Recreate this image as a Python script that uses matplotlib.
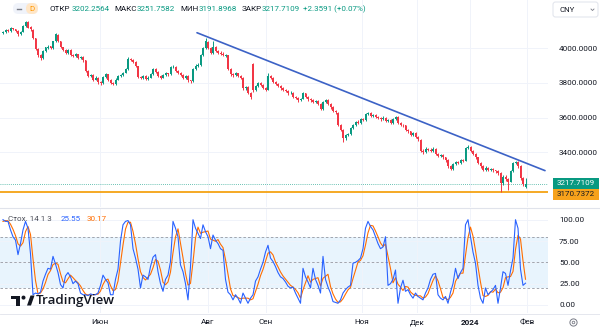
import matplotlib
matplotlib.use("Agg")
import matplotlib.pyplot as plt
import numpy as np
from matplotlib.patches import FancyBboxPatch, Rectangle, Circle, Polygon

plt.rcParams['font.family'] = ['Roboto', 'DejaVu Sans']

# ---------------- data (daily candles, mid-Apr 2023 .. early Feb 2024) ----------------
opens = [
    4090, 4095, 4105, 4098, 4115, 4110, 4100, 4080, 4095, 4128,
    4150, 4122, 4108, 4058, 3995, 3962, 3945, 3983, 4003, 4012,
    4000, 4040, 4078, 4040, 4005, 3992, 3975, 3990, 3962, 3955,
    3965, 3945, 3950, 3930, 3872, 3840, 3845, 3820, 3830, 3805,
    3800, 3835, 3850, 3820, 3800, 3795, 3820, 3840, 3845, 3860,
    3880, 3940, 3935, 3920, 3898, 3835, 3830, 3840, 3825, 3830,
    3850, 3880, 3865, 3840, 3830, 3845, 3855, 3850, 3890, 3895,
    3870, 3860, 3845, 3830, 3840, 3815, 3812, 3880, 3900, 3905,
    3960, 4000, 4038, 4000, 3975, 4010, 3985, 3975, 3970, 3958,
    3960, 3880, 3850, 3845, 3855, 3840, 3828, 3770, 3775, 3745,
    3910, 3760, 3780, 3800, 3790, 3770, 3762, 3840, 3830, 3805,
    3795, 3780, 3770, 3760, 3755, 3740, 3745, 3720, 3715, 3700,
    3710, 3740, 3720, 3705, 3700, 3690, 3695, 3680, 3650, 3690,
    3700, 3680, 3660, 3640, 3628, 3560, 3530, 3480, 3500, 3505,
    3540, 3560, 3575, 3570, 3590, 3585, 3620, 3625, 3610, 3615,
    3605, 3600, 3590, 3600, 3580, 3585, 3570, 3590, 3605, 3570,
    3560, 3555, 3530, 3520, 3500, 3510, 3490, 3470, 3410, 3400,
    3420, 3415, 3410, 3420, 3390, 3380, 3385, 3370, 3355, 3320,
    3305, 3330, 3345, 3340, 3355, 3352, 3425, 3430, 3410, 3390,
    3370, 3340, 3320, 3300, 3310, 3300, 3305, 3295, 3290, 3280,
    3220, 3260, 3245, 3230, 3290, 3340, 3345, 3320, 3250, 3202.2564,
]
highs = [
    4102, 4112, 4110, 4122, 4120, 4114, 4103, 4100, 4135, 4160,
    4155, 4128, 4110, 4062, 4000, 3968, 3990, 4010, 4018, 4016,
    4045, 4088, 4082, 4044, 4010, 3996, 3996, 3994, 3968, 3972,
    3970, 3956, 3955, 3934, 3876, 3852, 3850, 3838, 3834, 3812,
    3840, 3858, 3854, 3824, 3806, 3826, 3846, 3852, 3866, 3886,
    3948, 3946, 3940, 3924, 3900, 3842, 3848, 3845, 3838, 3856,
    3886, 3884, 3868, 3846, 3850, 3862, 3860, 3896, 3902, 3898,
    3875, 3864, 3850, 3846, 3844, 3820, 3886, 3908, 3914, 3966,
    4008, 4058, 4042, 4005, 4040, 4014, 3990, 3982, 3976, 3968,
    3964, 3886, 3856, 3862, 3860, 3846, 3832, 3784, 3780, 3750,
    3918, 3788, 3808, 3806, 3795, 3776, 3858, 3846, 3834, 3810,
    3800, 3786, 3776, 3766, 3760, 3752, 3750, 3726, 3720, 3716,
    3748, 3745, 3725, 3712, 3706, 3702, 3700, 3684, 3698, 3708,
    3705, 3685, 3665, 3646, 3632, 3565, 3535, 3508, 3514, 3548,
    3566, 3582, 3584, 3598, 3596, 3628, 3634, 3630, 3622, 3620,
    3612, 3606, 3608, 3605, 3592, 3590, 3596, 3612, 3610, 3576,
    3566, 3560, 3536, 3525, 3518, 3515, 3495, 3474, 3418, 3428,
    3426, 3422, 3428, 3425, 3396, 3392, 3390, 3375, 3360, 3326,
    3336, 3352, 3350, 3362, 3360, 3432, 3440, 3434, 3415, 3395,
    3375, 3345, 3325, 3318, 3316, 3312, 3310, 3300, 3296, 3284,
    3268, 3266, 3250, 3296, 3346, 3352, 3350, 3325, 3256, 3251.7582,
]
lows = [
    4085, 4090, 4092, 4095, 4104, 4094, 4074, 4076, 4092, 4125,
    4115, 4102, 4055, 3990, 3950, 3932, 3940, 3978, 3998, 3994,
    3996, 4035, 4034, 4000, 3984, 3968, 3970, 3955, 3948, 3950,
    3940, 3938, 3922, 3862, 3832, 3834, 3812, 3815, 3796, 3788,
    3796, 3830, 3814, 3792, 3786, 3790, 3815, 3834, 3840, 3856,
    3876, 3928, 3914, 3894, 3828, 3822, 3824, 3818, 3820, 3826,
    3846, 3858, 3834, 3824, 3826, 3840, 3842, 3846, 3884, 3864,
    3854, 3838, 3824, 3825, 3808, 3800, 3808, 3875, 3894, 3900,
    3955, 3996, 3994, 3966, 3970, 3978, 3968, 3962, 3954, 3950,
    3874, 3842, 3836, 3840, 3834, 3822, 3762, 3760, 3738, 3705,
    3748, 3752, 3774, 3782, 3764, 3752, 3758, 3822, 3798, 3788,
    3774, 3762, 3752, 3746, 3732, 3734, 3712, 3706, 3690, 3694,
    3705, 3714, 3698, 3692, 3682, 3684, 3672, 3642, 3646, 3684,
    3674, 3652, 3632, 3620, 3552, 3520, 3460, 3472, 3492, 3500,
    3534, 3554, 3562, 3565, 3578, 3580, 3614, 3604, 3604, 3598,
    3592, 3582, 3584, 3572, 3574, 3562, 3565, 3585, 3562, 3552,
    3546, 3522, 3512, 3492, 3494, 3482, 3466, 3400, 3388, 3394,
    3406, 3402, 3404, 3382, 3372, 3374, 3362, 3346, 3310, 3296,
    3300, 3324, 3332, 3334, 3342, 3348, 3418, 3402, 3382, 3362,
    3332, 3312, 3292, 3294, 3292, 3294, 3288, 3282, 3270, 3171,
    3212, 3236, 3182, 3226, 3285, 3332, 3312, 3242, 3205, 3191.8968,
]
closes = [
    4095, 4105, 4098, 4115, 4110, 4100, 4080, 4095, 4130, 4150,
    4120, 4110, 4060, 3995, 3960, 3945, 3985, 4005, 4010, 4000,
    4040, 4080, 4040, 4005, 3990, 3975, 3990, 3960, 3955, 3965,
    3945, 3950, 3930, 3870, 3840, 3845, 3820, 3830, 3805, 3800,
    3835, 3850, 3820, 3800, 3795, 3820, 3840, 3845, 3860, 3880,
    3940, 3935, 3920, 3900, 3835, 3830, 3840, 3825, 3830, 3850,
    3880, 3865, 3840, 3830, 3845, 3855, 3850, 3890, 3895, 3870,
    3860, 3845, 3830, 3840, 3815, 3810, 3880, 3900, 3905, 3960,
    4000, 4040, 4000, 3975, 4010, 3985, 3975, 3970, 3960, 3960,
    3880, 3850, 3845, 3855, 3840, 3830, 3770, 3775, 3745, 3720,
    3760, 3780, 3800, 3790, 3770, 3760, 3840, 3830, 3805, 3795,
    3780, 3770, 3760, 3755, 3740, 3745, 3720, 3715, 3700, 3710,
    3740, 3720, 3705, 3700, 3690, 3695, 3680, 3650, 3690, 3700,
    3680, 3660, 3640, 3630, 3560, 3530, 3480, 3500, 3505, 3540,
    3560, 3575, 3570, 3590, 3585, 3620, 3625, 3610, 3615, 3605,
    3600, 3590, 3600, 3580, 3585, 3570, 3590, 3605, 3570, 3560,
    3555, 3530, 3520, 3500, 3510, 3490, 3475, 3410, 3400, 3420,
    3415, 3410, 3420, 3390, 3380, 3385, 3370, 3355, 3320, 3305,
    3330, 3345, 3340, 3355, 3350, 3425, 3430, 3410, 3390, 3370,
    3340, 3320, 3300, 3310, 3300, 3305, 3295, 3290, 3280, 3220,
    3260, 3245, 3230, 3290, 3340, 3345, 3320, 3250, 3215.35, 3217.7109,
]
stoch_k = [
    100, 98, 98, 88, 80, 76, 59, 72, 88, 98,
    90, 60, 12, 14, 13, 15, 28, 36, 43, 42,
    57, 48, 38, 24, 20, 34, 38, 33, 25, 28,
    25, 14, 12, 12, 11, 13, 12, 12, 14, 23,
    35, 30, 26, 12, 12, 30, 42, 75, 94, 98,
    99, 94, 66, 55, 42, 20, 35, 33, 30, 45,
    56, 59, 39, 25, 16, 30, 35, 51, 98, 90,
    80, 47, 39, 25, 6, 45, 100, 90, 84, 78,
    94, 86, 80, 66, 82, 76, 72, 66, 64, 30,
    15, 12, 6, 12, 8, 2, 14, 8, 2, 8,
    12, 28, 33, 42, 50, 62, 70, 55, 51, 45,
    38, 33, 31, 27, 22, 20, 21, 14, 8, 2,
    43, 33, 27, 20, 43, 30, 23, 14, 57, 30,
    21, 14, 4, 3, 2, 6, 14, 18, 21, 23,
    49, 50, 52, 55, 66, 90, 98, 92, 88, 80,
    72, 66, 68, 80, 23, 25, 30, 41, 2, 20,
    29, 16, 18, 12, 8, 14, 10, 8, 6, 14,
    20, 30, 36, 37, 12, 8, 6, 10, 2, 15,
    25, 43, 31, 38, 43, 94, 100, 80, 62, 49,
    23, 8, 2, 20, 12, 15, 18, 23, 2, 20,
    39, 37, 23, 40, 55, 100, 90, 42, 23, 25.55,
]
stoch_d = [
    98, 99, 98.7, 94.7, 88.7, 81.3, 71.7, 69, 73, 86,
    92, 82.7, 54, 28.7, 13, 14, 18.7, 26.3, 35.7, 40.3,
    47.3, 49, 47.7, 36.7, 27.3, 26, 30.7, 35, 32, 28.7,
    26, 22.3, 17, 12.7, 11.7, 12, 12, 12.3, 12.7, 16.3,
    24, 29.3, 30.3, 22.7, 16.7, 18, 28, 49, 70.3, 89,
    97, 97, 86.3, 71.7, 54.3, 39, 32.3, 29.3, 32.7, 36,
    43.7, 53.3, 51.3, 41, 26.7, 23.7, 27, 38.7, 61.3, 79.7,
    89.3, 72.3, 55.3, 37, 23.3, 25.3, 50.3, 78.3, 91.3, 84,
    85.3, 86, 86.7, 77.3, 76, 74.7, 76.7, 71.3, 67.3, 53.3,
    36.3, 19, 11, 10, 8.7, 7.3, 8, 8, 8, 6,
    7.3, 16, 24.3, 34.3, 41.7, 51.3, 60.7, 62.3, 58.7, 50.3,
    44.7, 38.7, 34, 30.3, 26.7, 23, 21, 18.3, 14.3, 8,
    17.7, 26, 34.3, 26.7, 30, 31, 32, 22.3, 31.3, 33.7,
    36, 21.7, 13, 7, 3, 3.7, 7.3, 12.7, 17.7, 20.7,
    31, 40.7, 50.3, 52.3, 57.7, 70.3, 84.7, 93.3, 92.7, 86.7,
    80, 72.7, 68.7, 71.3, 57, 42.7, 26, 32, 24.3, 21,
    17, 21.7, 21, 15.3, 12.7, 11.3, 10.7, 10.7, 8, 9.3,
    13.3, 21.3, 28.7, 34.3, 28.3, 19, 8.7, 8, 6, 9,
    14, 27.7, 33, 37.3, 37.3, 58.3, 79, 91.3, 80.7, 63.7,
    44.7, 26.7, 11, 10, 11.3, 15.7, 15, 18.7, 14.3, 15,
    20.3, 32, 33, 33.3, 39.3, 65, 81.7, 77.3, 51.7, 30.17,
]
month_labels = ["Июн", "Авг", "Сен", "Ноя", "Дек", "2024", "Фев"]
month_pos = [38.8, 82, 105.2, 143.6, 165.6, 186.8, 209.6]
price_ticks = [3400, 3600, 3800, 4000]
stoch_ticks = [0, 25, 50, 75, 100]
trend_x = [77.6, 216.8]
trend_y = [4090, 3294]
support_level = 3170.7372
last_close = 3217.7109

# ---------------- styling ----------------
UP, DN = "#089981", "#F23645"
TXT = "#131722"
GRID = "#f0f3fa"

fig = plt.figure(figsize=(6, 3.32), dpi=100)
fig.patch.set_facecolor("white")

ax = fig.add_axes([0, 1 - 207 / 332, 548 / 600, 207 / 332])
ax2 = fig.add_axes([0, 1 - 313 / 332, 548 / 600, (313 - 208) / 332])

o = np.array(opens); h = np.array(highs); l = np.array(lows); c = np.array(closes)
idx = np.arange(len(c))
cols = np.where(c >= o, UP, DN)

ax.vlines(idx, l, h, colors=cols, lw=0.7, zorder=3)
bottom = np.minimum(o, c)
height = np.maximum(np.abs(c - o), 2.5)
ax.bar(idx, height, bottom=bottom, width=0.72, color=cols, linewidth=0, zorder=4)

ax.plot(trend_x, trend_y, color="#3c62c6", lw=1.2, zorder=5, solid_capstyle="round")
ax.axhline(support_level, color="#f5a214", lw=1.3, zorder=2)
ax.axhline(last_close, color=UP, lw=0.6, ls=(0, (1, 1.5)), zorder=2, alpha=0.8)

ax.set_xlim(-1.2, 218)
ax.set_ylim(3084, 4279)
ax.yaxis.tick_right()
ax.set_yticks(price_ticks)
ax.set_yticklabels([f"{v:.4f}" for v in price_ticks])
ax.tick_params(axis="y", length=0, pad=8, labelsize=5.9, labelcolor=TXT)
ax.set_xticks(month_pos)
ax.tick_params(axis="x", length=0, labelbottom=False)
ax.grid(True, color=GRID, lw=0.7, zorder=0)
for s in ax.spines.values():
    s.set_visible(False)

# ---------------- stochastic ----------------
ax2.axhspan(20, 80, color="#2196f3", alpha=0.1, lw=0, zorder=1)
for lvl in (80, 50, 20):
    ax2.axhline(lvl, color="#9598a1", lw=0.6, ls=(0, (3, 2.5)), zorder=2)
ax2.plot(idx, stoch_k, color="#2962ff", lw=0.8, zorder=4)
ax2.plot(idx, stoch_d, color="#ff6d00", lw=0.8, zorder=3)
ax2.set_xlim(-1.2, 218)
ax2.set_ylim(-9.4, 113.7)
ax2.yaxis.tick_right()
ax2.set_yticks(stoch_ticks)
ax2.set_yticklabels([f"{v:.2f}" for v in stoch_ticks])
ax2.tick_params(axis="y", length=0, pad=8, labelsize=5.9, labelcolor=TXT)
ax2.set_xticks(month_pos)
ax2.set_xticklabels(month_labels)
ax2.tick_params(axis="x", length=0, pad=4.5, labelsize=5.9, labelcolor=TXT)
for t in ax2.get_xticklabels():
    if t.get_text() == "2024":
        t.set_fontweight("bold")
ax2.grid(True, color=GRID, lw=0.7, zorder=0)
for s in ax2.spines.values():
    s.set_visible(False)

# ---------------- decorations (pixel coordinates) ----------------
dx = fig.add_axes([0, 0, 1, 1], zorder=10)
dx.set_xlim(0, 600); dx.set_ylim(332, 0); dx.axis("off"); dx.patch.set_alpha(0)

dx.plot([0, 600], [207.5, 207.5], color="#e0e3eb", lw=0.8)
dx.plot([0, 600], [313.5, 313.5], color="#e0e3eb", lw=0.6)

# header pill
dx.add_patch(FancyBboxPatch((13, 3), 25, 11, boxstyle="round,pad=0,rounding_size=5.5",
                            fc="#f0f3fa", ec="none"))
dx.add_patch(FancyBboxPatch((26, 3), 12, 11, boxstyle="round,pad=0,rounding_size=5.5",
                            fc="#ffe6c7", ec="none"))
dx.plot([17, 21], [8.5, 8.5], color="#787b86", lw=1.0)
dx.text(32, 8.8, "D", color="#ff9800", fontsize=5.8, ha="center", va="center")

hdr = [(50, "ОТКР", TXT), (72, "3202.2564", UP), (114, "МАКС", TXT), (137, "3251.7582", UP),
       (180, "МИН", TXT), (199, "3191.8968", UP), (242, "ЗАКР", TXT), (262, "3217.7109", UP),
       (303, "+2.3591 (+0.07%)", UP)]
for x, s, col in hdr:
    dx.text(x, 8.8, s, color=col, fontsize=5.8, ha="left", va="center")

# CNY box
dx.add_patch(FancyBboxPatch((553, 2), 45, 15, boxstyle="round,pad=0,rounding_size=2.5",
                            fc="white", ec="#e0e3eb", lw=0.7))
dx.text(559, 9.8, "CNY", color=TXT, fontsize=5.6, ha="left", va="center")
dx.plot([591, 592.5, 594], [9, 10.5, 9], color="#787b86", lw=0.6)

# price labels
dx.add_patch(Rectangle((553, 178), 46, 10.5, fc=UP, ec="none"))
dx.text(576, 183.4, "3217.7109", color="white", fontsize=5.8, ha="center", va="center")
dx.add_patch(Rectangle((553, 189), 46, 10.5, fc="#f7a21b", ec="none"))
dx.text(576, 194.4, "3170.7372", color=TXT, fontsize=5.8, ha="center", va="center")

# stochastic legend
dx.text(8, 219, "Стох. 14 1 3", color="#4a4d57", fontsize=5.8, ha="left", va="center")
dx.text(61, 219, "25.55", color="#2962ff", fontsize=5.8, ha="left", va="center")
dx.text(87, 219, "30.17", color="#ff6d00", fontsize=5.8, ha="left", va="center")

# TradingView logo
dx.add_patch(Rectangle((10.5, 295.5), 9, 3.5, fc=TXT, ec="none"))
dx.add_patch(Rectangle((15.5, 295.5), 4, 10, fc=TXT, ec="none"))
dx.add_patch(Circle((23.5, 297.6), 2.0, fc=TXT, ec="none"))
dx.add_patch(Polygon([(27, 305.5), (30.5, 295.5), (34.5, 295.5), (31, 305.5)], closed=True,
                     fc=TXT, ec="none"))
dx.text(35.5, 300.5, "TradingView", color=TXT, fontsize=9.6, ha="left", va="center",
        family=["Open Sans", "DejaVu Sans"], fontweight="semibold")

# settings gear
dx.add_patch(Circle((573.5, 322.5), 3.6, fc="none", ec="#787b86", lw=0.7))
dx.add_patch(Circle((573.5, 322.5), 1.3, fc="none", ec="#787b86", lw=0.6))

fig.savefig("out.png", dpi=100, facecolor="white")
